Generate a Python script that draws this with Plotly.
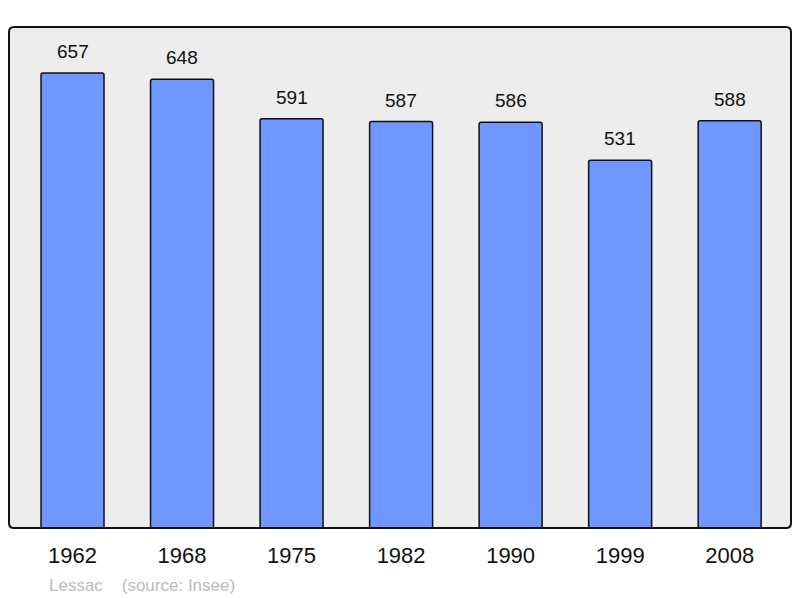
import plotly.graph_objects as go

years = ["1962", "1968", "1975", "1982", "1990", "1999", "2008"]
population = [657, 648, 591, 587, 586, 531, 588]
source_note = "Lessac    (source: Insee)"

fig = go.Figure()
fig.add_trace(go.Bar(
    x=years,
    y=population,
    width=0.575,
    marker=dict(color="#7097ff", line=dict(color="#111111", width=1.5), cornerradius=2),
    hoverinfo="skip",
))

# value labels above the bars (category index as x)
for i, val in enumerate(population):
    fig.add_annotation(x=i, y=val, text=str(val), showarrow=False,
                       yanchor="bottom", yshift=9,
                       font=dict(family="Liberation Sans", size=19, color="#111111"))

fig.add_annotation(xref="paper", yref="paper", x=0.049, y=-0.091, xanchor="left", yanchor="top",
                   text=source_note.replace(" ", "&nbsp;"), showarrow=False,
                   font=dict(family="Liberation Sans", size=17, color="#bbbbbb"))

# frame round the plot area, slightly rounded corners
rx, ry = 5 / 782, 5 / 501
frame = (f"M {rx},0 L {1 - rx},0 Q 1,0 1,{ry} L 1,{1 - ry} Q 1,1 {1 - rx},1 "
         f"L {rx},1 Q 0,1 0,{1 - ry} L 0,{ry} Q 0,0 {rx},0 Z")
fig.add_shape(type="path", xref="paper", yref="paper", path=frame,
              line=dict(color="#111111", width=2), layer="above")

fig.update_layout(
    width=800, height=598,
    margin=dict(l=9, r=9, t=27, b=70),
    paper_bgcolor="white",
    plot_bgcolor="#ededed",
    showlegend=False,
)
fig.update_xaxes(type="category", range=[-0.58, 6.56], showgrid=False, ticks="outside", ticklen=8,
                 tickcolor="rgba(0,0,0,0)",
                 tickfont=dict(family="Liberation Sans", size=22, color="#111111"))
fig.update_yaxes(range=[0, 723.5], showgrid=False, showticklabels=False, zeroline=False)

fig.write_html("out.html", config={"displayModeBar": False},
               post_script="document.body.style.margin='0';")
